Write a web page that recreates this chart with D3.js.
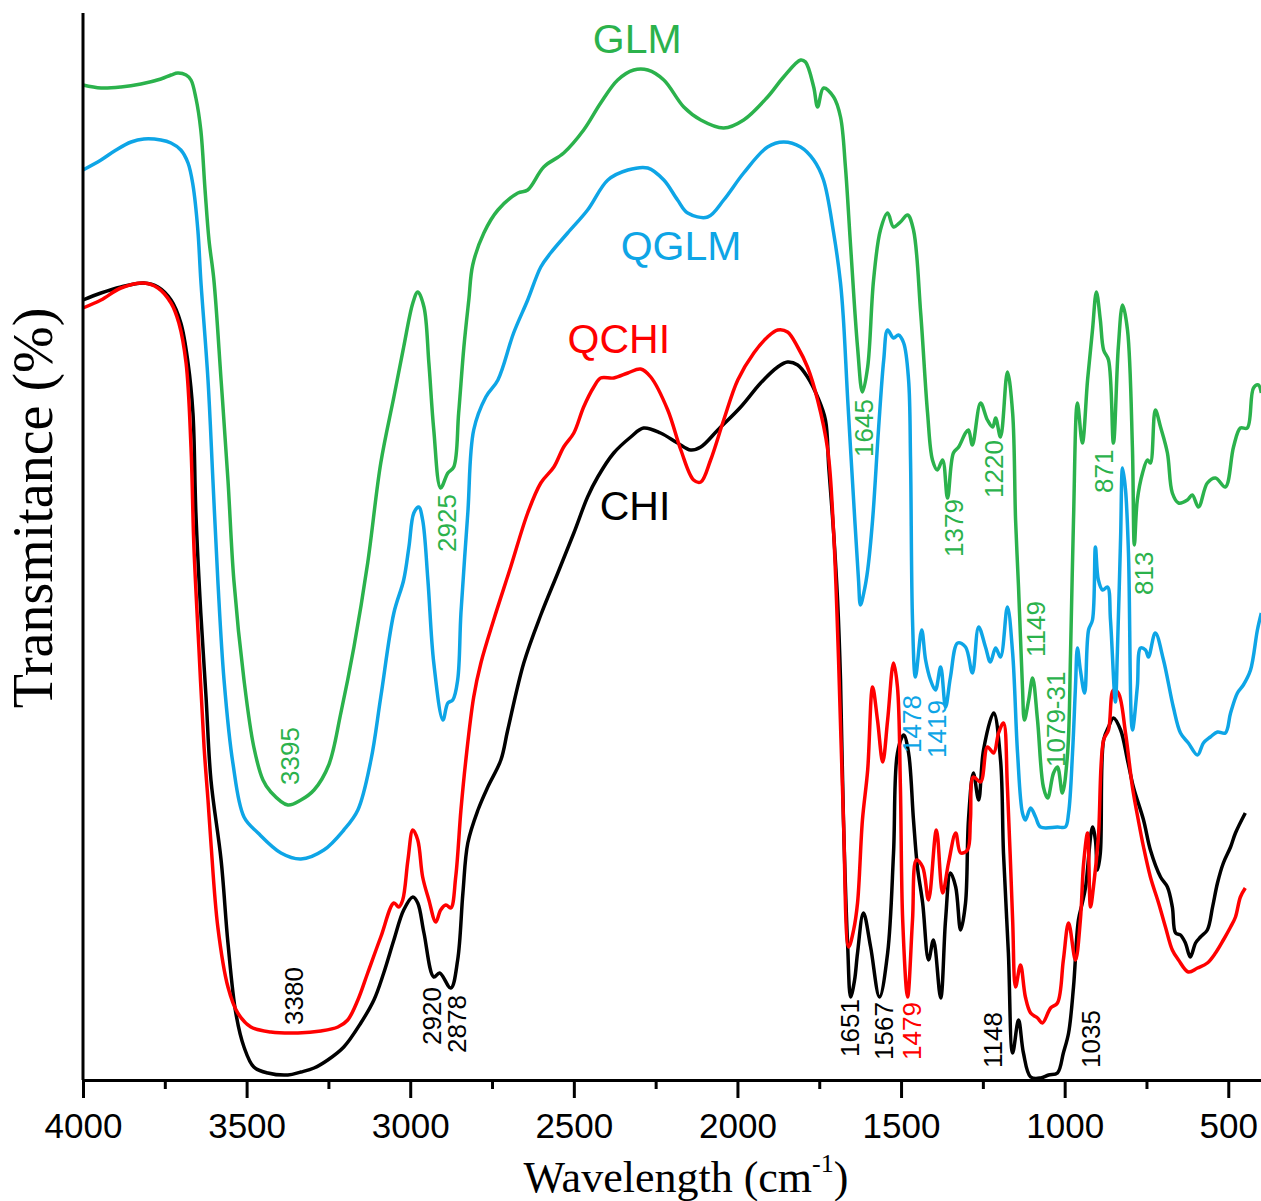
<!DOCTYPE html>
<html>
<head>
<meta charset="utf-8">
<script src="https://cdn.jsdelivr.net/npm/d3@7"></script>
<style>
  body { margin: 0; background: #fff; }
</style>
</head>
<body>
<div id="chart"></div>
<script>
// FTIR spectra, [wavenumber (cm-1), transmittance (a.u.)]
var glm = [[4000,99.5],[3945,99.2],[3884,99.3],[3823,99.6],[3762,100.1],[3731,100.5],[3710,100.7],[3685,100.5],[3670,100.0],[3655,98.2],[3640,95.0],[3627,89.0],[3615,84.0],[3600,80.0],[3578,70.0],[3557,60.0],[3539,50.0],[3508,40.0],[3478,33.3],[3450,30.0],[3426,28.8],[3374,27.5],[3334,28.0],[3294,29.0],[3249,31.5],[3212,36.7],[3172,43.3],[3130,51.7],[3090,61.7],[3050,68.3],[3020,73.3],[2992,77.7],[2977,78.8],[2958,77.3],[2943,71.7],[2928,65.0],[2907,59.2],[2885,60.7],[2867,61.3],[2852,66.7],[2836,73.3],[2821,78.0],[2809,81.5],[2775,84.7],[2732,87.0],[2671,88.7],[2641,89.0],[2592,91.3],[2531,92.7],[2470,95.0],[2418,97.7],[2366,100.0],[2317,101.0],[2274,101.0],[2225,100.0],[2164,97.3],[2112,96.0],[2042,95.2],[1981,96.0],[1908,98.3],[1859,100.3],[1807,102.0],[1792,101.8],[1767,99.3],[1755,97.3],[1737,99.2],[1706,98.3],[1685,96.3],[1670,91.3],[1654,83.3],[1633,73.3],[1618,68.8],[1602,71.3],[1584,80.0],[1563,85.0],[1541,86.7],[1523,85.3],[1502,85.8],[1480,86.5],[1462,85.0],[1440,76.7],[1419,66.7],[1404,62.0],[1389,61.0],[1373,62.0],[1358,58.2],[1340,62.7],[1324,63.3],[1303,64.7],[1294,65.0],[1282,63.5],[1257,67.7],[1236,66.0],[1220,65.3],[1211,66.2],[1196,64.3],[1175,70.8],[1159,66.7],[1150,56.0],[1141,49.3],[1129,39.3],[1123,36.0],[1110,38.0],[1098,40.2],[1083,36.0],[1065,29.3],[1052,28.2],[1034,30.7],[1022,31.3],[1007,28.7],[991,32.7],[982,42.7],[973,56.0],[961,67.7],[946,63.7],[930,70.0],[915,75.0],[903,78.8],[891,76.0],[881,73.0],[866,72.0],[851,63.7],[836,73.3],[823,77.5],[808,75.0],[793,63.3],[787,53.5],[778,58.0],[762,60.7],[747,62.0],[738,61.7],[723,67.0],[707,65.3],[686,62.7],[671,58.7],[652,57.7],[625,58.0],[610,58.5],[591,57.3],[564,59.7],[539,60.2],[509,59.3],[484,63.3],[463,65.2],[442,65.2],[423,69.2],[408,69.5],[399,68.7]];

var qglm = [[4000,91.0],[3945,92.0],[3899,93.0],[3853,93.8],[3814,94.1],[3762,94.0],[3731,93.7],[3701,93.0],[3679,91.7],[3664,89.5],[3649,85.0],[3640,80.0],[3618,70.0],[3603,60.0],[3588,50.0],[3569,40.0],[3542,31.7],[3508,26.3],[3465,24.7],[3395,22.7],[3334,22.1],[3264,23.0],[3203,25.0],[3160,27.0],[3120,32.0],[3090,38.3],[3050,46.7],[3020,50.0],[3004,53.3],[2989,56.7],[2974,57.3],[2962,56.0],[2946,50.0],[2928,41.7],[2900,36.0],[2885,37.7],[2870,38.0],[2855,40.0],[2845,46.7],[2824,56.7],[2806,65.0],[2769,68.3],[2732,70.0],[2684,74.7],[2641,78.0],[2601,81.3],[2571,82.7],[2519,84.7],[2458,87.0],[2396,90.0],[2335,91.0],[2274,91.2],[2225,90.0],[2183,88.0],[2152,86.7],[2091,86.3],[2042,88.0],[1981,90.7],[1908,93.3],[1859,93.8],[1807,93.3],[1767,92.0],[1737,90.0],[1706,84.7],[1685,79.7],[1676,76.0],[1663,68.0],[1645,58.0],[1630,50.0],[1624,47.5],[1612,49.0],[1602,51.0],[1587,56.0],[1569,65.0],[1553,72.0],[1541,75.0],[1523,74.2],[1508,74.5],[1492,73.7],[1477,70.0],[1471,62.0],[1465,46.0],[1456,40.3],[1437,45.0],[1425,42.0],[1410,40.0],[1395,39.0],[1379,41.3],[1364,37.3],[1349,40.3],[1327,43.7],[1303,43.3],[1282,40.7],[1263,45.3],[1242,43.3],[1227,41.8],[1211,43.2],[1196,42.3],[1175,47.3],[1159,42.7],[1144,32.7],[1129,26.7],[1120,26.0],[1104,27.2],[1089,26.3],[1074,25.3],[1022,25.3],[998,25.3],[988,26.7],[976,32.7],[967,39.3],[961,43.2],[952,41.0],[939,38.7],[927,45.0],[915,46.0],[906,53.3],[897,50.0],[884,49.0],[869,49.3],[860,46.0],[845,37.8],[839,42.7],[829,54.3],[823,61.2],[814,59.0],[805,52.7],[793,35.0],[778,39.3],[768,43.2],[753,43.0],[744,42.3],[723,44.7],[698,42.0],[668,37.3],[646,34.7],[622,33.7],[594,32.5],[576,33.7],[555,34.3],[533,34.8],[509,34.7],[493,36.7],[472,38.7],[454,39.5],[432,41.0],[411,45.0],[399,46.7]];

var qchi = [[4000,77.2],[3945,78.0],[3884,79.2],[3814,79.7],[3771,79.2],[3731,77.7],[3707,75.7],[3685,71.7],[3670,63.3],[3661,53.3],[3646,43.3],[3630,33.3],[3618,28.0],[3609,23.7],[3588,15.3],[3557,9.3],[3527,6.7],[3487,5.3],[3426,4.8],[3343,4.7],[3273,4.9],[3221,5.3],[3191,6.0],[3160,8.0],[3130,10.7],[3090,14.3],[3050,17.7],[3035,17.3],[3023,18.0],[3007,22.0],[2992,25.0],[2977,24.0],[2962,20.3],[2943,18.0],[2922,15.8],[2907,17.0],[2891,17.5],[2876,17.2],[2861,20.3],[2845,27.0],[2830,32.0],[2806,38.3],[2784,41.7],[2745,46.0],[2693,51.3],[2641,56.7],[2601,59.7],[2561,61.3],[2531,63.3],[2500,64.7],[2470,67.3],[2439,69.3],[2418,70.2],[2378,70.2],[2335,70.7],[2296,71.1],[2265,70.3],[2213,67.0],[2173,63.0],[2134,60.0],[2112,59.8],[2082,62.0],[2042,66.0],[1999,70.0],[1950,72.7],[1908,74.3],[1877,75.0],[1847,74.8],[1816,73.3],[1786,71.3],[1755,68.0],[1724,63.0],[1706,54.7],[1691,42.0],[1676,26.0],[1660,13.3],[1645,15.0],[1633,17.7],[1618,26.0],[1602,31.0],[1587,39.3],[1572,36.0],[1556,31.8],[1541,36.0],[1523,41.7],[1511,39.3],[1502,29.3],[1495,16.0],[1480,8.3],[1465,16.0],[1453,22.0],[1434,21.3],[1416,18.0],[1392,25.0],[1373,18.7],[1355,21.7],[1333,24.7],[1318,22.7],[1297,23.0],[1288,26.0],[1279,30.3],[1257,29.8],[1236,33.3],[1217,32.7],[1202,34.7],[1187,35.7],[1175,29.3],[1159,16.0],[1150,9.3],[1135,11.5],[1120,8.3],[1104,6.7],[1083,6.2],[1068,5.7],[1043,7.2],[1022,7.7],[1004,12.0],[988,15.7],[967,12.0],[952,16.0],[942,21.7],[930,24.7],[921,17.3],[912,19.3],[897,24.3],[881,34.0],[866,35.0],[851,39.0],[836,38.7],[814,34.7],[793,29.3],[775,26.0],[759,23.3],[738,20.3],[713,17.7],[692,15.3],[671,13.0],[652,12.0],[622,10.8],[594,11.2],[564,11.7],[539,12.7],[515,14.0],[493,15.3],[478,16.3],[463,18.3],[448,19.2]];

var chi = [[4000,78.0],[3945,78.7],[3884,79.3],[3814,79.7],[3771,79.3],[3731,78.0],[3701,75.7],[3679,71.7],[3664,66.7],[3655,56.7],[3640,46.7],[3624,38.3],[3609,30.0],[3578,22.0],[3557,13.7],[3533,6.7],[3508,3.3],[3478,1.3],[3435,0.7],[3374,0.5],[3334,0.8],[3294,1.2],[3252,2.0],[3203,3.3],[3151,5.7],[3111,8.0],[3081,10.7],[3050,14.0],[3020,17.0],[2992,18.3],[2977,17.7],[2958,14.7],[2928,10.3],[2910,10.7],[2876,9.2],[2855,12.0],[2839,18.7],[2824,23.7],[2793,27.0],[2763,29.3],[2723,32.0],[2702,35.0],[2653,41.7],[2601,46.5],[2549,50.7],[2500,54.7],[2458,58.3],[2427,60.3],[2378,62.7],[2326,64.3],[2287,65.2],[2235,64.7],[2183,63.7],[2143,63.0],[2112,63.3],[2060,65.0],[1990,67.3],[1929,69.7],[1877,71.3],[1847,71.8],[1816,71.5],[1786,70.3],[1755,68.3],[1731,66.0],[1721,61.3],[1706,54.7],[1694,48.0],[1685,40.0],[1676,26.0],[1663,13.3],[1654,8.3],[1642,10.0],[1633,12.7],[1615,16.7],[1593,13.3],[1566,8.3],[1541,12.7],[1523,22.7],[1511,32.7],[1492,34.5],[1477,32.7],[1462,26.0],[1450,21.3],[1434,17.7],[1416,12.0],[1401,14.0],[1379,8.2],[1364,16.0],[1349,20.7],[1333,19.3],[1318,15.0],[1303,17.7],[1294,26.0],[1279,30.7],[1263,28.0],[1248,33.0],[1217,36.7],[1196,32.0],[1187,22.7],[1172,12.7],[1159,2.7],[1141,6.0],[1126,2.7],[1104,0.3],[1074,0.2],[1049,0.5],[1022,0.7],[1004,2.7],[988,4.7],[973,9.3],[958,16.0],[946,17.7],[936,19.3],[915,25.3],[906,24.0],[900,21.0],[891,22.7],[881,34.0],[866,35.3],[851,36.2],[829,35.0],[808,32.0],[790,29.3],[759,26.0],[738,23.0],[707,20.3],[686,19.3],[671,17.3],[661,14.7],[646,14.5],[631,13.7],[616,12.3],[600,13.7],[585,14.3],[564,15.0],[548,17.3],[533,19.7],[515,21.7],[493,23.3],[478,24.7],[448,26.7]];

// Axis ticks
var majorTicks = [4000, 3500, 3000, 2500, 2000, 1500, 1000, 500];
var minorTicks = [3750, 3250, 2750, 2250, 1750, 1250, 750];

// Series names: [name, wavenumber, transmittance] of the label start
var seriesLabels = [
  ["GLM", 2442, 102.7, "#2bb24c"],
  ["QGLM", 2357, 82.0, "#0ea5e6"],
  ["QCHI", 2519, 72.7, "#ff0000"],
  ["CHI", 2421, 56.0, "#000000"]
];

// Peak labels: [text, wavenumber, transmittance] of the baseline start
var peakText = ["3395", "2925", "1645", "1379", "1220", "871", "813", "1149", "1079-31",
  "1478", "1419",
  "3380", "2920", "2878", "1651", "1567", "1479", "1148", "1035"];
var peakWave = [3340, 2861, 1587, 1312, 1187, 851, 729, 1059, 998,
  1440, 1364,
  3328, 2907, 2830, 1630, 1526, 1440, 1190, 891];
var peakValue = [29.5, 52.8, 62.3, 52.3, 58.2, 58.7, 48.5, 42.3, 31.3,
  32.7, 32.2,
  5.5, 3.5, 2.7, 2.3, 2.0, 2.0, 1.2, 1.2];
var peakColor = ["#2bb24c", "#2bb24c", "#2bb24c", "#2bb24c", "#2bb24c", "#2bb24c", "#2bb24c", "#2bb24c", "#2bb24c",
  "#0ea5e6", "#0ea5e6",
  "#000000", "#000000", "#000000", "#000000", "#000000", "#ff0000", "#000000", "#000000"];

// SVG size and margins
var svgWidth = 1261;
var svgHeight = 1201;
var margin = { top: 13, right: 0, bottom: 121, left: 83 };
var width = svgWidth - margin.left - margin.right;
var height = svgHeight - margin.top - margin.bottom;

var svg = d3.select("#chart")
  .append("svg")
  .attr("width", svgWidth)
  .attr("height", svgHeight);

var chartGroup = svg.append("g")
  .attr("transform", `translate(${margin.left}, ${margin.top})`);

// Scales
var xScale = d3.scaleLinear().domain([4000, 400]).range([0, width]);
var yScale = d3.scaleLinear().domain([0, 106.7]).range([height, 0]);

// Spectra
var line = d3.line()
  .x(d => xScale(d[0]))
  .y(d => yScale(d[1]))
  .curve(d3.curveCatmullRom.alpha(0.5));

var spectra = [
  [chi, "#000000"],
  [qchi, "#ff0000"],
  [qglm, "#0ea5e6"],
  [glm, "#2bb24c"]
];

spectra.forEach(function(s) {
  chartGroup.append("path")
    .datum(s[0])
    .attr("fill", "none")
    .attr("stroke", s[1])
    .attr("stroke-width", 3.5)
    .attr("stroke-linejoin", "round")
    .attr("d", line);
});

// Bottom axis, major ticks with labels
var bottomAxis = d3.axisBottom(xScale)
  .tickValues(majorTicks)
  .tickSize(18)
  .tickSizeOuter(0)
  .tickPadding(15)
  .tickFormat(d3.format("d"));

var xAxis = chartGroup.append("g")
  .attr("transform", `translate(0, ${height})`)
  .call(bottomAxis);

xAxis.select(".domain").attr("stroke-width", 3);
xAxis.selectAll(".tick line").attr("stroke-width", 3);
xAxis.selectAll(".tick text")
  .attr("font-family", "'Liberation Sans', Arial, sans-serif")
  .attr("font-size", "35px")
  .attr("fill", "#000");

// Minor ticks
var minorAxis = d3.axisBottom(xScale)
  .tickValues(minorTicks)
  .tickSize(9)
  .tickFormat("");

var xMinor = chartGroup.append("g")
  .attr("transform", `translate(0, ${height})`)
  .call(minorAxis);

xMinor.select(".domain").remove();
xMinor.selectAll(".tick line").attr("stroke-width", 3);

// Left axis line without ticks
chartGroup.append("line")
  .attr("x1", 0)
  .attr("x2", 0)
  .attr("y1", 0)
  .attr("y2", height)
  .attr("stroke", "#000")
  .attr("stroke-width", 3);

// Series labels
chartGroup.selectAll(".seriesLabel")
  .data(seriesLabels)
  .enter()
  .append("text")
  .attr("class", "seriesLabel")
  .attr("x", d => xScale(d[1]))
  .attr("y", d => yScale(d[2]))
  .attr("font-family", "'Liberation Sans', Arial, sans-serif")
  .attr("font-size", "41px")
  .attr("fill", d => d[3])
  .text(d => d[0]);

// Peak labels (rotated)
chartGroup.selectAll(".peakLabel")
  .data(peakText)
  .enter()
  .append("text")
  .attr("class", "peakLabel")
  .attr("transform", (d, i) => `translate(${xScale(peakWave[i])}, ${yScale(peakValue[i])}) rotate(-90)`)
  .attr("font-family", "'Liberation Sans', Arial, sans-serif")
  .attr("font-size", "26px")
  .attr("fill", (d, i) => peakColor[i])
  .text(d => d);

// Axis titles
var xTitle = svg.append("text")
  .attr("x", 686)
  .attr("y", 1192)
  .attr("text-anchor", "middle")
  .attr("font-family", "'Liberation Serif', 'Times New Roman', serif")
  .attr("font-size", "44px")
  .attr("fill", "#000");

xTitle.append("tspan").text("Wavelength (cm");
xTitle.append("tspan").attr("font-size", "26px").attr("dy", -20).text("-1");
xTitle.append("tspan").attr("dy", 20).text(")");

svg.append("text")
  .attr("transform", "translate(52, 508) rotate(-90)")
  .attr("text-anchor", "middle")
  .attr("font-family", "'Liberation Serif', 'Times New Roman', serif")
  .attr("font-size", "56px")
  .attr("fill", "#000")
  .text("Transmitance (%)");
</script>
</body>
</html>
